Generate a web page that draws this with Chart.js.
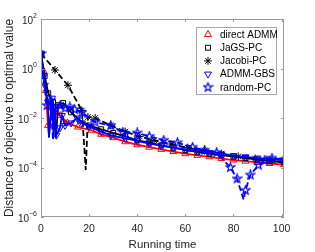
<!DOCTYPE html>
<html>
<head>
<meta charset="utf-8">
<script src="https://cdn.jsdelivr.net/npm/chart.js@4.4.0/dist/chart.umd.min.js"></script>
<style>
html, body { margin: 0; padding: 0; background: #fff; }
</style>
</head>
<body>
<canvas id="myChart" width="315" height="252"></canvas>
<script>
// данные (x -- время, y -- расстояние до оптимума)
const seriesNames = ['direct ADMM', 'JaGS-PC', 'Jacobi-PC', 'ADMM-GBS', 'random-PC']

const admmX = [0, 1, 2, 2.9, 3.3, 4.3, 4.9, 6, 8, 11, 15.4, 21, 25, 30, 35, 40, 45, 50, 55, 60, 65, 70, 75, 80, 85, 90, 95, 101]
const admmY = [4, 0.8, 0.13, 5e-3, 2e-3, 2.5e-2, 6.3e-3, 1.6e-2, 1.26e-2, 6.3e-3, 4.3e-3, 3.2e-3, 2.2e-3, 1.6e-3, 1.1e-3, 8.3e-4, 6.6e-4, 5.4e-4, 4.4e-4, 3.6e-4, 3.1e-4, 2.7e-4, 2.3e-4, 2.0e-4, 1.8e-4, 1.6e-4, 1.45e-4, 1.3e-4]

const jagsX = [0, 1.5, 3, 5, 6.2, 7.1, 9.2, 12.5, 16.3, 20, 25, 30, 35, 40, 45, 50, 55, 60, 65, 70, 75, 80, 85, 90, 95, 101]
const jagsY = [4, 0.5, 0.1, 4.4e-2, 1.6e-3, 3.3e-2, 4e-2, 1.7e-2, 7.9e-3, 5e-3, 3.5e-3, 2.5e-3, 1.8e-3, 1.26e-3, 1e-3, 7.9e-4, 6.3e-4, 5e-4, 4.3e-4, 3.6e-4, 3.2e-4, 2.75e-4, 2.4e-4, 2.1e-4, 1.8e-4, 1.6e-4]

const jacobiX = [0, 5.8, 11.2, 17, 18.6, 19.5, 22.5, 29, 35, 41, 47, 54, 61, 68, 75, 82, 89, 96, 101]
const jacobiY = [4, 0.87, 0.21, 2e-2, 8e-5, 1.1e-2, 1e-2, 5e-3, 2.8e-3, 1.8e-3, 1.26e-3, 8.9e-4, 6.3e-4, 4.8e-4, 3.6e-4, 2.8e-4, 2.3e-4, 1.9e-4, 1.66e-4]

const gbsX = [0, 1.6, 2.9, 3.3, 4.6, 5.2, 5.7, 6.4, 7.9, 8.7, 10, 12.5, 15, 17, 20, 25, 29, 35, 40, 45, 50, 55, 60, 65, 70, 75, 80, 85, 90, 95, 101]
const gbsY = [4, 0.21, 4.4e-2, 1.6e-3, 6.3e-2, 2e-3, 2e-2, 2e-3, 4e-3, 1.26e-2, 5e-3, 6.3e-3, 1e-2, 6.3e-3, 4.5e-3, 2.8e-3, 2e-3, 1.5e-3, 1.2e-3, 9.3e-4, 7.6e-4, 6.3e-4, 5.4e-4, 4.6e-4, 4e-4, 3.5e-4, 3e-4, 2.7e-4, 2.4e-4, 2.2e-4, 2e-4]

const randX = [0, 0.8, 2.5, 4, 5, 6, 8, 10, 12, 14, 17, 22.5, 29, 34, 40, 45, 51, 56.7, 63, 68, 73, 78.7, 81.5, 84.2, 85, 87, 90.4, 93, 96, 101]
const randY = [4, 0.5, 3.2e-2, 5e-2, 1.26e-3, 2.5e-2, 3.2e-2, 2.5e-2, 2.8e-2, 2.2e-2, 1.7e-2, 6.8e-3, 5e-3, 2.7e-3, 2.5e-3, 1.8e-3, 1.26e-3, 1e-3, 6.6e-4, 5e-4, 4e-4, 1e-4, 3.5e-5, 5e-6, 1.2e-5, 5e-5, 1.26e-4, 2e-4, 2.4e-4, 2.1e-4]

const xTicks = [0, 20, 40, 60, 80, 100]
const yTicks = [1e-6, 1e-4, 1e-2, 1, 1e2]

// пятиконечная звезда для random-PC (в Chart.js такой нет)
function makeStar(color, r) {
    let c = document.createElement('canvas')
    let s = Math.ceil(r * 2 + 2)
    c.width = s
    c.height = s
    let g = c.getContext('2d')
    g.strokeStyle = color
    g.lineWidth = 1.2
    g.beginPath()
    for (let k = 0; k < 10; k++) {
        let a = -Math.PI / 2 + k * Math.PI / 5
        let rr = k % 2 ? r * 0.42 : r
        let px = s / 2 + rr * Math.cos(a), py = s / 2 + rr * Math.sin(a)
        if (k) g.lineTo(px, py); else g.moveTo(px, py)
    }
    g.closePath()
    g.stroke()
    return c
}

function toPoints(xs, ys) {
    return xs.map((x, i) => ({x: x, y: ys[i]}))
}

// не рисуем маркер на дне резких провалов
function markerRadius(r) {
    return function (ctx) {
        let d = ctx.dataset.data, i = ctx.dataIndex
        if (i > 0 && i < d.length - 1) {
            let l = Math.log10(d[i].y), a = Math.log10(d[i - 1].y), b = Math.log10(d[i + 1].y)
            if (l < a - 0.35 && l < b - 0.35) return 0
        }
        return r
    }
}

const starImg = makeStar('#0000ff', 4.5)

const styles = [
    {color: '#ff0000', dash: [], pointStyle: 'triangle', rotation: 0, radius: 4},
    {color: '#000000', dash: [], pointStyle: 'rect', rotation: 0, radius: 3.5},
    {color: '#000000', dash: [6, 3], pointStyle: 'star', rotation: 0, radius: 4},
    {color: '#0000ff', dash: [], pointStyle: 'triangle', rotation: 180, radius: 4},
    {color: '#0000ff', dash: [6, 3], pointStyle: starImg, rotation: 0, radius: 4.5},
]

const allData = [
    toPoints(admmX, admmY),
    toPoints(jagsX, jagsY),
    toPoints(jacobiX, jacobiY),
    toPoints(gbsX, gbsY),
    toPoints(randX, randY),
]

const datasets = seriesNames.map((name, i) => ({
    label: name,
    data: allData[i],
    borderColor: styles[i].color,
    borderWidth: 1.8,
    borderDash: styles[i].dash,
    pointStyle: styles[i].pointStyle,
    rotation: styles[i].rotation,
    pointRadius: markerRadius(styles[i].radius),
    pointBorderColor: styles[i].color,
    pointBackgroundColor: 'rgba(0,0,0,0)',
    pointBorderWidth: 1,
    fill: false,
    tension: 0,
    order: seriesNames.length - i,
}))

const axisColor = '#9a9a9a'
const textColor = '#262626'

// рамка, внутренние засечки, подписи 10^k и легенда
const matlabLook = {
    id: 'matlabLook',
    afterDraw(chart) {
        let ctx = chart.ctx
        let a = chart.chartArea
        let xs = chart.scales.x, ys = chart.scales.y
        ctx.save()
        ctx.strokeStyle = axisColor
        ctx.lineWidth = 1
        ctx.strokeRect(a.left + 0.5, a.top + 0.5, a.right - a.left - 1, a.bottom - a.top - 1)
        ctx.beginPath()
        xTicks.forEach(v => {
            let px = Math.round(xs.getPixelForValue(v)) + 0.5
            ctx.moveTo(px, a.bottom); ctx.lineTo(px, a.bottom - 3)
            ctx.moveTo(px, a.top); ctx.lineTo(px, a.top + 3)
        })
        yTicks.forEach(v => {
            let py = Math.round(ys.getPixelForValue(v)) + 0.5
            ctx.moveTo(a.left, py); ctx.lineTo(a.left + 3, py)
            ctx.moveTo(a.right, py); ctx.lineTo(a.right - 3, py)
        })
        ctx.stroke()

        // подписи оси y со степенью
        ctx.fillStyle = textColor
        ctx.textBaseline = 'middle'
        yTicks.forEach(v => {
            let e = String(Math.round(Math.log10(v))).replace('-', '\u2212')
            let py = ys.getPixelForValue(v)
            ctx.font = '7px "Liberation Sans", Arial, sans-serif'
            ctx.textAlign = 'right'
            let ew = ctx.measureText(e).width
            ctx.fillText(e, 37, py - 3)
            ctx.font = '10px "Liberation Sans", Arial, sans-serif'
            ctx.fillText('10', 37 - ew, py + 2)
        })

        // легенда
        let lx = 196, ly = 27, lw = 80, lh = 67
        ctx.fillStyle = '#ffffff'
        ctx.fillRect(lx, ly, lw, lh)
        ctx.strokeStyle = '#a8a8a8'
        ctx.strokeRect(lx + 0.5, ly + 0.5, lw, lh)
        ctx.font = '10px "Liberation Sans", Arial, sans-serif'
        ctx.textAlign = 'left'
        seriesNames.forEach((name, i) => {
            let cy = ly + 7.5 + i * 13.2
            ctx.strokeStyle = styles[i].color
            ctx.fillStyle = 'rgba(0,0,0,0)'
            ctx.lineWidth = 1
            Chart.helpers.drawPoint(ctx, {
                pointStyle: styles[i].pointStyle,
                radius: styles[i].radius,
                rotation: styles[i].rotation,
                borderWidth: 1,
            }, 208, cy)
            ctx.fillStyle = '#000000'
            ctx.fillText(name, 220, cy + 0.5)
        })
        ctx.restore()
    }
}

let ctx = document.getElementById('myChart').getContext('2d')
let chart = new Chart(ctx, {
    type: 'line',
    data: {datasets: datasets},
    options: {
        responsive: false,
        animation: false,
        devicePixelRatio: 1,
        layout: {padding: {left: 0, top: 19, right: 31, bottom: 0}},
        plugins: {legend: {display: false}, tooltip: {enabled: false}},
        scales: {
            x: {
                type: 'linear',
                min: 0,
                max: 101,
                afterBuildTicks: s => { s.ticks = xTicks.map(v => ({value: v})) },
                afterFit: s => { s.height = 35 },
                grid: {display: false, drawTicks: false},
                border: {display: false},
                ticks: {
                    color: textColor,
                    padding: 6,
                    maxRotation: 0,
                    font: {family: '"Liberation Sans", Arial, sans-serif', size: 10.5},
                },
                title: {
                    display: true,
                    text: 'Running time',
                    color: textColor,
                    padding: {top: 0, bottom: 0.5},
                    font: {family: '"Liberation Sans", Arial, sans-serif', size: 11.5},
                },
            },
            y: {
                type: 'logarithmic',
                min: 1e-6,
                max: 1e2,
                afterBuildTicks: s => { s.ticks = yTicks.map(v => ({value: v})) },
                afterFit: s => { s.width = 41 },
                grid: {display: false, drawTicks: false},
                border: {display: false},
                ticks: {display: false},
                title: {
                    display: true,
                    text: 'Distance of objective to optimal value',
                    color: textColor,
                    padding: {top: 2, bottom: 0},
                    font: {family: '"Liberation Sans", Arial, sans-serif', size: 12},
                },
            },
        },
    },
    plugins: [matlabLook],
})
</script>
</body>
</html>
